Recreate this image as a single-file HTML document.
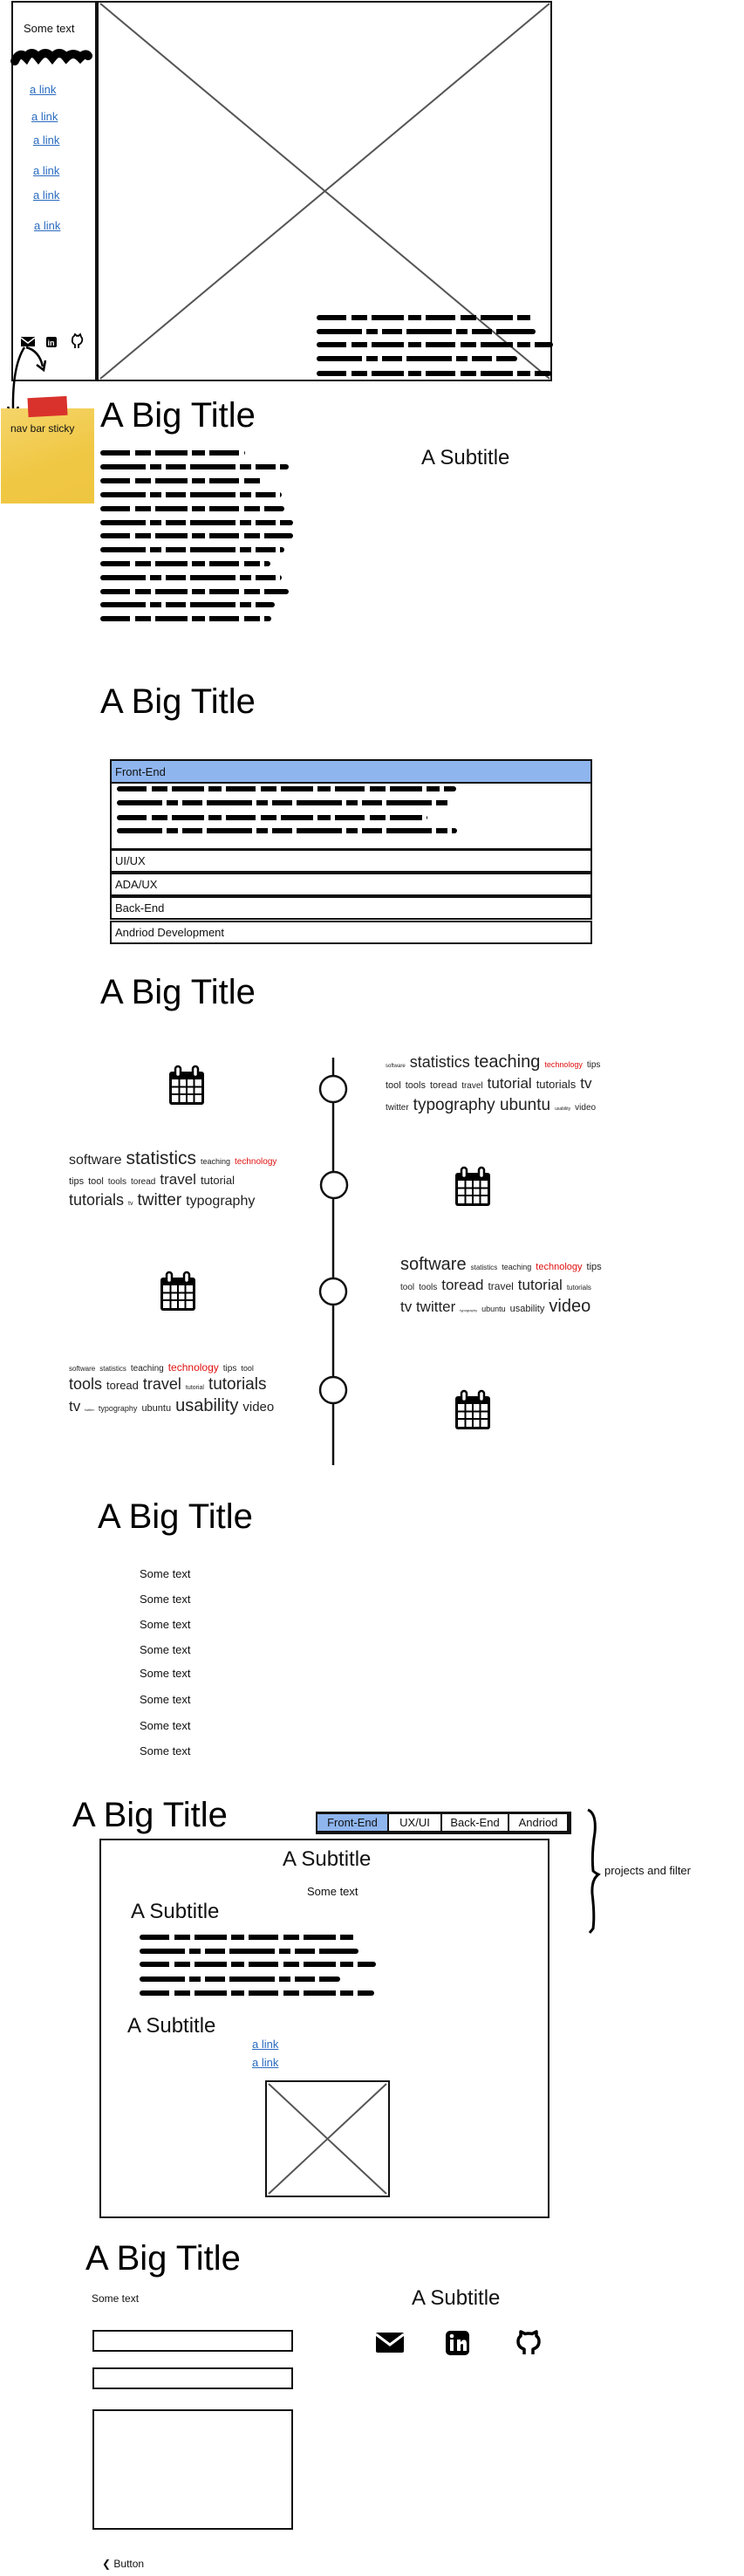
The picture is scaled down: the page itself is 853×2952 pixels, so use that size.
<!DOCTYPE html>
<html><head><meta charset="utf-8"><style>
*{margin:0;padding:0;box-sizing:border-box}
body{width:853px;height:2952px;position:relative;background:#fff;font-family:"Liberation Sans",sans-serif;color:#111;overflow:hidden}
.a{position:absolute}
.t{position:absolute;white-space:nowrap}
.big{position:absolute;font-size:40px;line-height:40px;white-space:nowrap;color:#000}
.sub{position:absolute;font-size:24px;line-height:24px;white-space:nowrap}
.lk{position:absolute;font-size:13px;color:#2a6bbf;text-decoration:underline;white-space:nowrap}
.box{position:absolute;border:2px solid #111}
.scr{position:absolute;height:6px;border-radius:3px;background:repeating-linear-gradient(90deg,#000 0 34px,transparent 34px 40px,#000 40px 58px,transparent 58px 63px,#000 63px 100px,transparent 100px 105px,#000 105px 120px,transparent 120px 125px)}
.scr2{background:repeating-linear-gradient(90deg,#000 0 52px,transparent 52px 57px,#000 57px 70px,transparent 70px 75px,#000 75px 98px,transparent 98px 103px)}
.cl{position:absolute;display:flex;align-items:baseline;gap:5px;white-space:nowrap;color:#222}
.r{color:#e01010}
.row{position:absolute;left:126px;width:553px;border:2px solid #111;font-size:13px;padding-left:4px;display:flex;align-items:center}
.tab{position:absolute;top:2077px;height:23px;border:2px solid #111;font-size:13px;display:flex;align-items:center;justify-content:center}
.st{position:absolute;left:160px;font-size:13px;white-space:nowrap}
</style></head><body>

<div class="box" style="left:13px;top:1px;width:98px;height:436px"></div>
<div class="box" style="left:111px;top:1px;width:522px;height:436px"></div>
<svg class="a" style="left:0;top:0" width="853" height="600">
<line x1="115" y1="4" x2="630" y2="434" stroke="#555" stroke-width="2"/>
<line x1="630" y1="4" x2="115" y2="434" stroke="#555" stroke-width="2"/>
<path d="M17 70 Q22 58 30 66 Q36 56 44 66 Q52 56 60 66 Q68 56 76 66 Q84 58 92 66 Q98 60 101 64" stroke="#000" stroke-width="10" fill="none" stroke-linecap="round"/>
<rect x="24" y="386" width="16" height="11" fill="#000"/><path d="M24 387 L32 393 L40 387" stroke="#fff" stroke-width="1.5" fill="none"/>
<rect x="53" y="386" width="12" height="12" rx="2" fill="#000"/><text x="54.5" y="396" font-size="9" fill="#fff" font-family="Liberation Sans" font-weight="bold">in</text>
<path d="M86 399 V395 Q82 393 83 389 Q83 386 85 385 L86 383 L88 385 Q89 384 90 385 L92 383 L93 386 Q95 388 94 391 Q93 394 90 395 V399" stroke="#000" stroke-width="1.8" fill="none"/>
<path d="M28 398 Q14 420 15 470" stroke="#000" stroke-width="2.5" fill="none"/>
<path d="M9 466 L15 479 L21 466" stroke="#000" stroke-width="2.5" fill="none"/>
<path d="M30 398 Q45 402 49 420" stroke="#000" stroke-width="2.5" fill="none"/>
<path d="M42 418 L50 424 L52 413" stroke="#000" stroke-width="2.5" fill="none"/>
</svg>
<div class="t" style="left:27px;top:25px;font-size:13px">Some text</div>
<div class="lk" style="left:34px;top:95px">a link</div>
<div class="lk" style="left:36px;top:126px">a link</div>
<div class="lk" style="left:38px;top:153px">a link</div>
<div class="lk" style="left:38px;top:188px">a link</div>
<div class="lk" style="left:38px;top:216px">a link</div>
<div class="lk" style="left:39px;top:251px">a link</div>
<div class="scr" style="left:363px;top:361px;width:247px"></div>
<div class="scr scr2" style="left:363px;top:377px;width:251px"></div>
<div class="scr" style="left:363px;top:392px;width:271px"></div>
<div class="scr scr2" style="left:363px;top:408px;width:230px"></div>
<div class="scr" style="left:363px;top:425px;width:269px"></div>

<div class="a" style="left:1px;top:468px;width:107px;height:109px;background:linear-gradient(160deg,#f5d56a,#f0c743 60%,#efc640)"></div>
<div class="a" style="left:32px;top:455px;width:45px;height:22px;background:#d9322c;transform:rotate(-3deg)"></div>
<div class="t" style="left:12px;top:484px;font-size:12px">nav bar sticky</div>

<div class="big" style="left:115px;top:456px">A Big Title</div>
<div class="sub" style="left:483px;top:513px">A Subtitle</div>
<div class="scr" style="left:115px;top:516px;width:166px"></div>
<div class="scr scr2" style="left:115px;top:532px;width:216px"></div>
<div class="scr" style="left:115px;top:548px;width:186px"></div>
<div class="scr scr2" style="left:115px;top:564px;width:208px"></div>
<div class="scr" style="left:115px;top:580px;width:211px"></div>
<div class="scr scr2" style="left:115px;top:596px;width:221px"></div>
<div class="scr" style="left:115px;top:611px;width:221px"></div>
<div class="scr scr2" style="left:115px;top:627px;width:211px"></div>
<div class="scr" style="left:115px;top:643px;width:195px"></div>
<div class="scr scr2" style="left:115px;top:659px;width:208px"></div>
<div class="scr" style="left:115px;top:675px;width:216px"></div>
<div class="scr scr2" style="left:115px;top:690px;width:200px"></div>
<div class="scr" style="left:115px;top:706px;width:196px"></div>

<div class="big" style="left:115px;top:784px">A Big Title</div>
<div class="row" style="top:870px;height:28px;background:#8fb5ee">Front-End</div>
<div class="box" style="left:126px;top:896px;width:553px;height:78px"></div>
<div class="scr" style="left:134px;top:901px;width:389px"></div>
<div class="scr scr2" style="left:134px;top:917px;width:383px"></div>
<div class="scr" style="left:134px;top:934px;width:356px"></div>
<div class="scr scr2" style="left:134px;top:949px;width:390px"></div>
<div class="row" style="top:973px;height:27px">UI/UX</div>
<div class="row" style="top:1000px;height:27px">ADA/UX</div>
<div class="row" style="top:1027px;height:27px">Back-End</div>
<div class="row" style="top:1055px;height:27px">Andriod Development</div>

<div class="big" style="left:115px;top:1117px">A Big Title</div>
<svg class="a" style="left:0;top:1200px" width="853" height="500">
<defs><g id="cal"><rect x="2" y="7" width="40" height="38" rx="3" fill="#000"/><rect x="5" y="16" width="34" height="26" fill="#fff"/><path d="M5 24.5H39M5 33H39M13.5 16V42M22 16V42M30.5 16V42" stroke="#000" stroke-width="2"/><rect x="9" y="1" width="6" height="12" rx="3" fill="#fff" stroke="#000" stroke-width="2.5"/><rect x="29" y="1" width="6" height="12" rx="3" fill="#fff" stroke="#000" stroke-width="2.5"/></g></defs>
<line x1="382" y1="12" x2="382" y2="479" stroke="#111" stroke-width="2.5"/>
<circle cx="382" cy="48" r="15" fill="#fff" stroke="#111" stroke-width="2.5"/>
<circle cx="383" cy="158" r="15" fill="#fff" stroke="#111" stroke-width="2.5"/>
<circle cx="382" cy="280" r="15" fill="#fff" stroke="#111" stroke-width="2.5"/>
<circle cx="382" cy="393" r="15" fill="#fff" stroke="#111" stroke-width="2.5"/>
<use href="#cal" x="192" y="21"/>
<use href="#cal" x="520" y="137"/>
<use href="#cal" x="182" y="257"/>
<use href="#cal" x="520" y="393"/>
</svg>
<div class="cl" style="left:442px;top:1206px"><span style="font-size:6px">software</span><span style="font-size:18px">statistics</span><span style="font-size:20px">teaching</span><span class="r" style="font-size:9px">technology</span><span style="font-size:10px">tips</span></div>
<div class="cl" style="left:442px;top:1232px"><span style="font-size:11px">tool</span><span style="font-size:11px">tools</span><span style="font-size:11px">toread</span><span style="font-size:10px">travel</span><span style="font-size:17px">tutorial</span><span style="font-size:13px">tutorials</span><span style="font-size:17px">tv</span></div>
<div class="cl" style="left:442px;top:1256px"><span style="font-size:10px">twitter</span><span style="font-size:19px">typography ubuntu</span><span style="font-size:5px">usability</span><span style="font-size:10px">video</span></div>

<div class="cl" style="left:79px;top:1316px"><span style="font-size:16px">software</span><span style="font-size:21px">statistics</span><span style="font-size:9px">teaching</span><span class="r" style="font-size:10px">technology</span></div>
<div class="cl" style="left:79px;top:1342px"><span style="font-size:11px">tips</span><span style="font-size:11px">tool</span><span style="font-size:10px">tools</span><span style="font-size:10px">toread</span><span style="font-size:17px">travel</span><span style="font-size:13px">tutorial</span></div>
<div class="cl" style="left:79px;top:1365px"><span style="font-size:18px">tutorials</span><span style="font-size:7px">tv</span><span style="font-size:19px">twitter</span><span style="font-size:16px">typography</span></div>

<div class="cl" style="left:459px;top:1438px"><span style="font-size:20px">software</span><span style="font-size:8px">statistics</span><span style="font-size:9px">teaching</span><span class="r" style="font-size:11px">technology</span><span style="font-size:11px">tips</span></div>
<div class="cl" style="left:459px;top:1463px"><span style="font-size:10px">tool</span><span style="font-size:10px">tools</span><span style="font-size:17px">toread</span><span style="font-size:12px">travel</span><span style="font-size:17px">tutorial</span><span style="font-size:8px">tutorials</span></div>
<div class="cl" style="left:459px;top:1486px"><span style="font-size:17px">tv twitter</span><span style="font-size:4px">typography</span><span style="font-size:9px">ubuntu</span><span style="font-size:11px">usability</span><span style="font-size:20px">video</span></div>

<div class="cl" style="left:79px;top:1560px"><span style="font-size:8px">software</span><span style="font-size:8px">statistics</span><span style="font-size:10px">teaching</span><span class="r" style="font-size:12px">technology</span><span style="font-size:10px">tips</span><span style="font-size:9px">tool</span></div>
<div class="cl" style="left:79px;top:1576px"><span style="font-size:18px">tools</span><span style="font-size:13px">toread</span><span style="font-size:18px">travel</span><span style="font-size:7px">tutorial</span><span style="font-size:19px">tutorials</span></div>
<div class="cl" style="left:79px;top:1600px"><span style="font-size:17px">tv</span><span style="font-size:4px">twitter</span><span style="font-size:9px">typography</span><span style="font-size:11px">ubuntu</span><span style="font-size:20px">usability</span><span style="font-size:15px">video</span></div>

<div class="big" style="left:112px;top:1718px">A Big Title</div>
<div class="st" style="top:1796px">Some text</div>
<div class="st" style="top:1825px">Some text</div>
<div class="st" style="top:1854px">Some text</div>
<div class="st" style="top:1883px">Some text</div>
<div class="st" style="top:1910px">Some text</div>
<div class="st" style="top:1940px">Some text</div>
<div class="st" style="top:1970px">Some text</div>
<div class="st" style="top:1999px">Some text</div>

<div class="big" style="left:83px;top:2060px">A Big Title</div>
<div class="box" style="left:362px;top:2076px;width:293px;height:26px;border-width:3px"></div>
<div class="tab" style="left:362px;width:84px;background:#8fb5ee">Front-End</div>
<div class="tab" style="left:444px;width:63px">UX/UI</div>
<div class="tab" style="left:505px;width:79px">Back-End</div>
<div class="tab" style="left:582px;width:70px">Andriod</div>
<svg class="a" style="left:660px;top:2070px" width="40" height="150"><path d="M14 4 Q24 8 22 30 Q18 55 20 74 Q22 76 26 78 Q18 84 19 100 Q22 125 20 140 L16 145" stroke="#000" stroke-width="3" fill="none"/></svg>
<div class="t" style="left:693px;top:2136px;font-size:13px">projects and filter</div>
<div class="box" style="left:114px;top:2107px;width:516px;height:435px"></div>
<div class="sub" style="left:324px;top:2119px">A Subtitle</div>
<div class="t" style="left:352px;top:2160px;font-size:13px">Some text</div>
<div class="sub" style="left:150px;top:2179px">A Subtitle</div>
<div class="scr" style="left:160px;top:2217px;width:247px"></div>
<div class="scr scr2" style="left:160px;top:2233px;width:251px"></div>
<div class="scr" style="left:160px;top:2248px;width:271px"></div>
<div class="scr scr2" style="left:160px;top:2265px;width:230px"></div>
<div class="scr" style="left:160px;top:2281px;width:269px"></div>
<div class="sub" style="left:146px;top:2310px">A Subtitle</div>
<div class="lk" style="left:289px;top:2335px">a link</div>
<div class="lk" style="left:289px;top:2356px">a link</div>
<div class="box" style="left:304px;top:2384px;width:143px;height:134px"></div>
<svg class="a" style="left:304px;top:2384px" width="143" height="134"><line x1="4" y1="4" x2="139" y2="130" stroke="#555" stroke-width="2"/><line x1="139" y1="4" x2="4" y2="130" stroke="#555" stroke-width="2"/></svg>

<div class="big" style="left:98px;top:2568px">A Big Title</div>
<div class="t" style="left:105px;top:2627px;font-size:12px">Some text</div>
<div class="sub" style="left:472px;top:2622px">A Subtitle</div>
<svg class="a" style="left:425px;top:2665px" width="210" height="40">
<rect x="6" y="8" width="32" height="23" rx="2" fill="#000"/><path d="M6 10 L22 22 L38 10" stroke="#fff" stroke-width="3" fill="none"/>
<rect x="86" y="6" width="27" height="28" rx="5" fill="#000"/><rect x="91" y="16" width="4" height="13" fill="#fff"/><circle cx="93" cy="12" r="2.3" fill="#fff"/><path d="M99 29V16H103V19Q106 15 109 17Q110 18 110 22V29H106V22Q105 20 103 22V29Z" fill="#fff"/>
<path d="M176 33 V27 Q169 25 169 18 Q169 14 172 12 L172 7 L177 9.5 Q181 8.5 185 9.5 L190 7 L190 12 Q193 14 193 18 Q193 25 186 27 V33" stroke="#000" stroke-width="3.5" fill="none" stroke-linejoin="round"/>
</svg>
<div class="box" style="left:106px;top:2670px;width:230px;height:25px"></div>
<div class="box" style="left:106px;top:2713px;width:230px;height:25px"></div>
<div class="box" style="left:106px;top:2761px;width:230px;height:138px"></div>
<div class="t" style="left:117px;top:2931px;font-size:12px">&#10094; Button</div>
</body></html>
